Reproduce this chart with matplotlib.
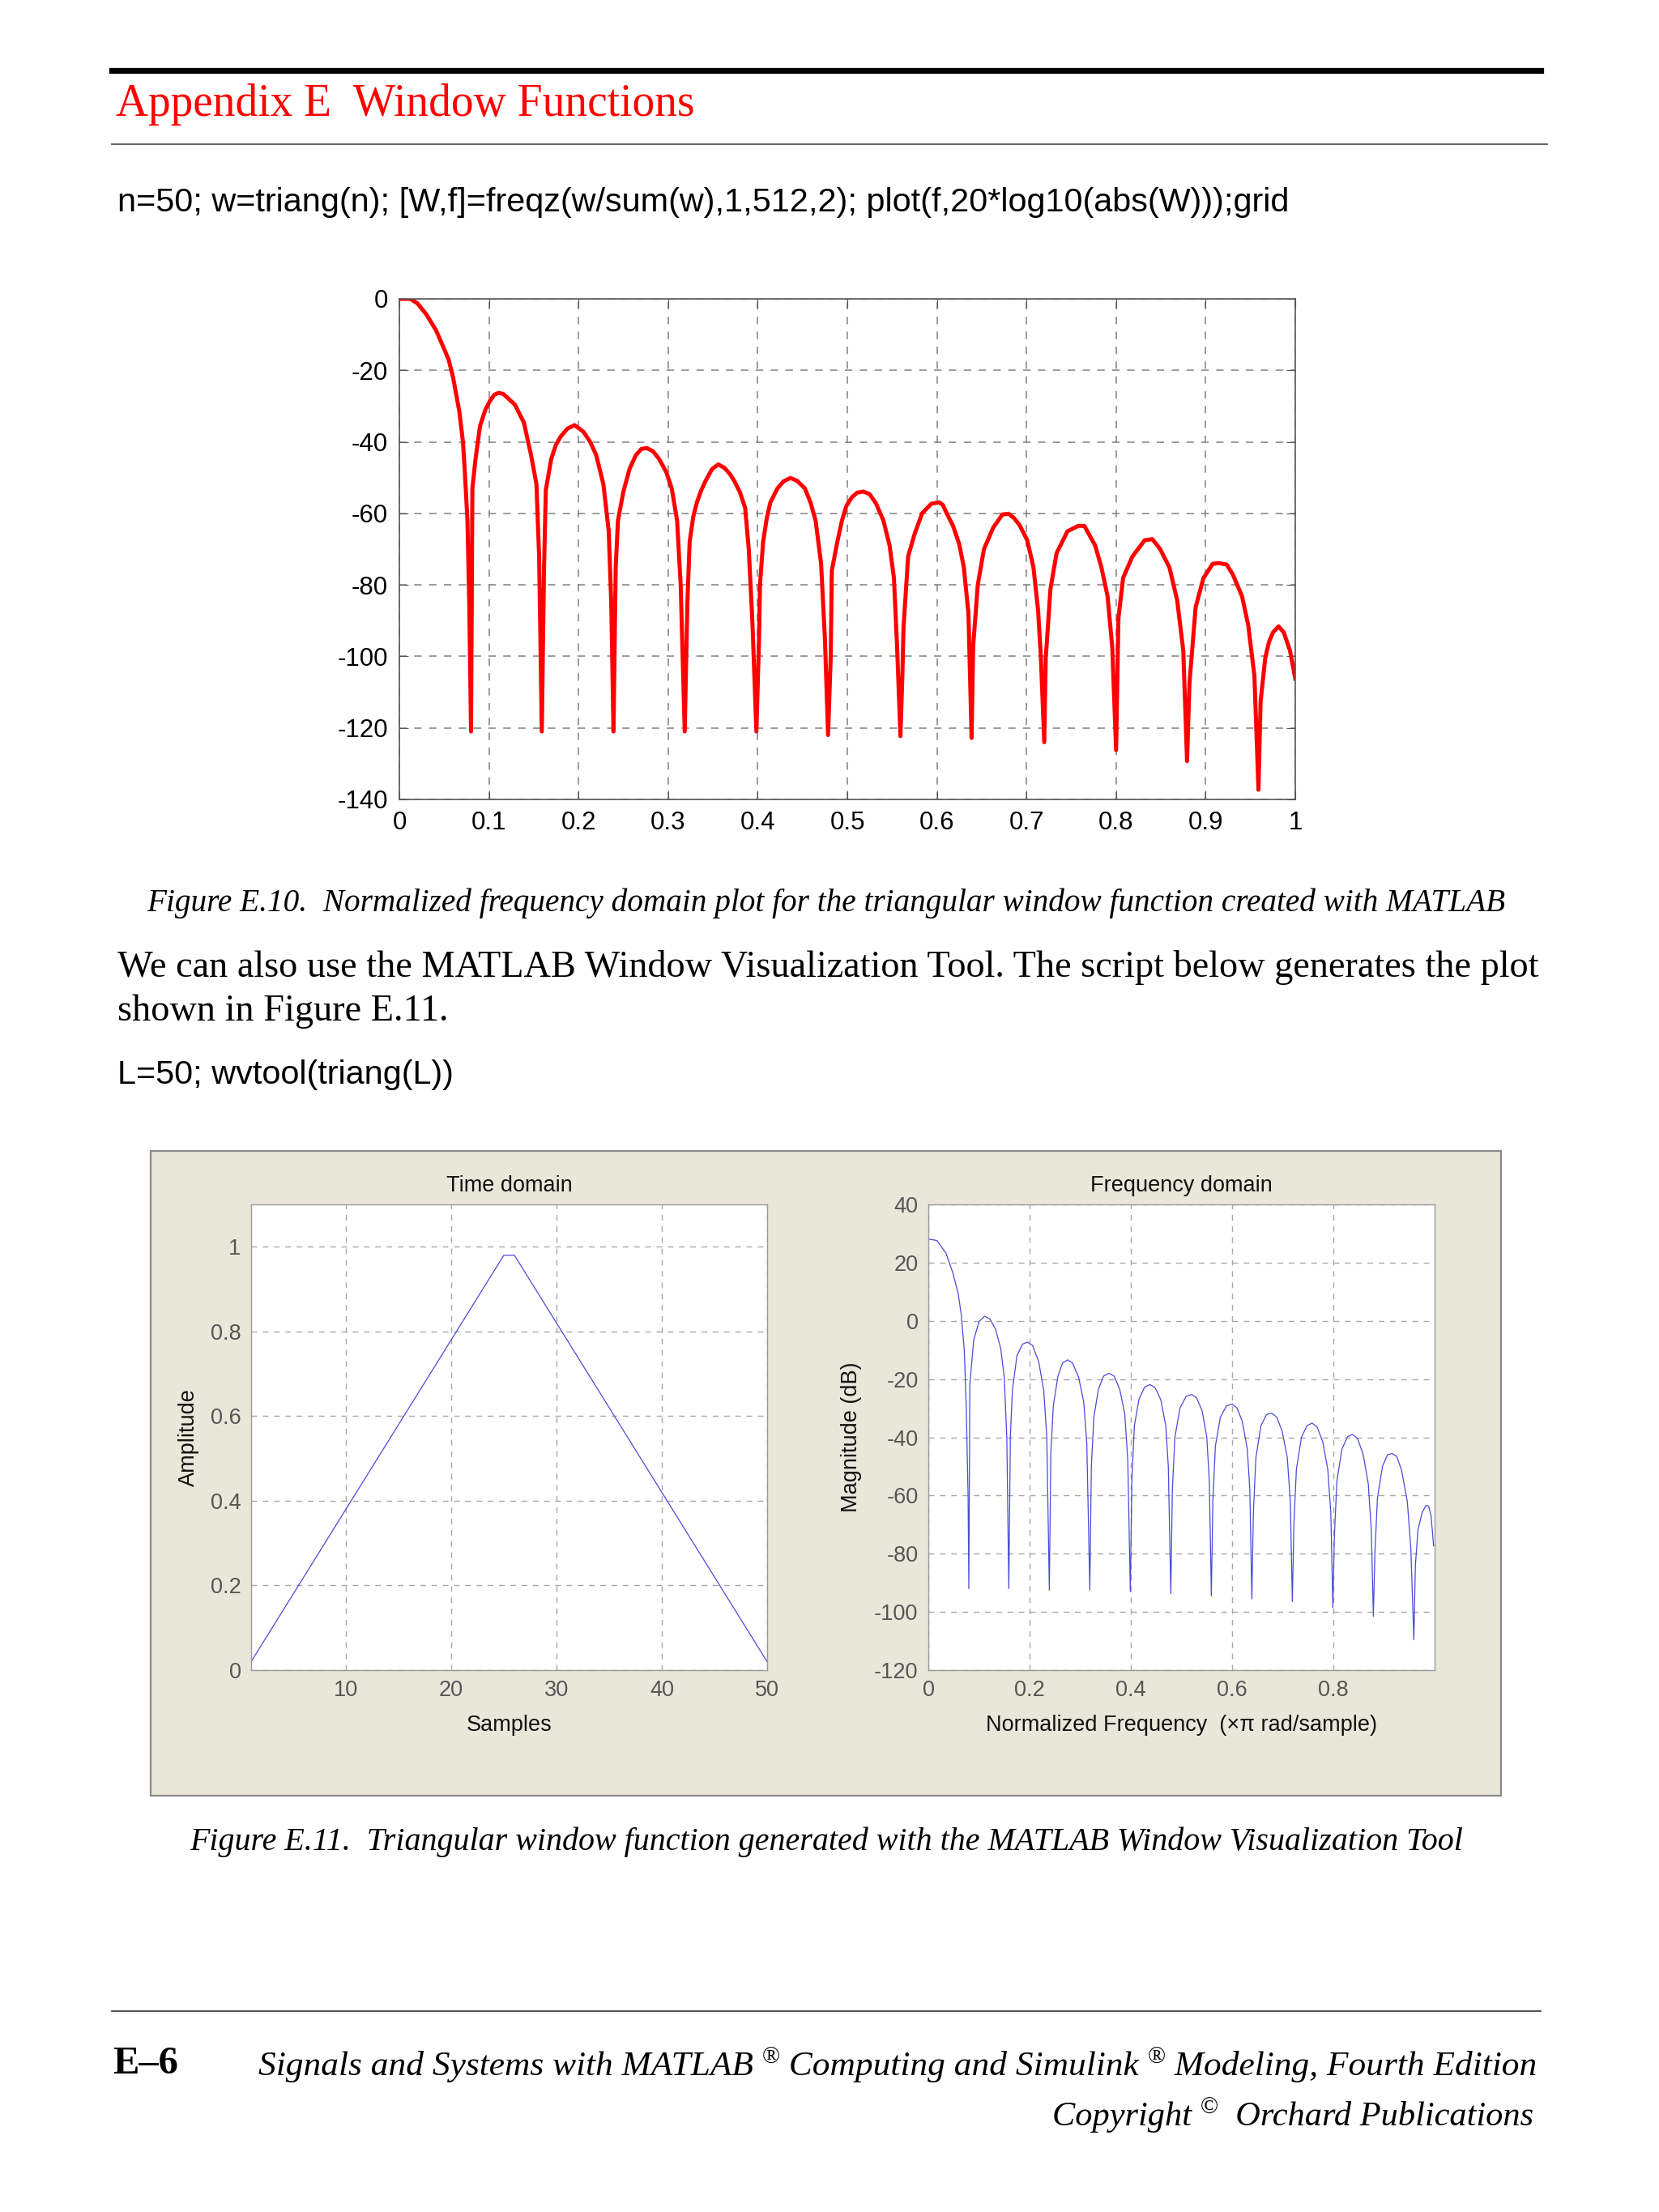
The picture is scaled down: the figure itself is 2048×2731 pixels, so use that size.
import numpy as np
import matplotlib
matplotlib.use("Agg")
import matplotlib.pyplot as plt
from matplotlib.lines import Line2D
from matplotlib.patches import Rectangle

plt.rcParams["axes.unicode_minus"] = False

# ---- data ----
# Figure E.10: freqz of triang(50)/sum, in dB (normalized freq, 1 = Nyquist)
top_freq = [0.000, 0.012, 0.020, 0.030, 0.041, 0.050, 0.055, 0.060, 0.067, 0.071, 0.073, 0.076, 0.078, 0.080,
            0.0815, 0.085, 0.090, 0.096, 0.101, 0.106, 0.111, 0.116, 0.120, 0.129, 0.139, 0.147, 0.153, 0.156, 0.159,
            0.1615, 0.1635, 0.1695, 0.1745, 0.1795, 0.1875, 0.1956, 0.2056, 0.2130, 0.2197, 0.2277, 0.2337, 0.2365, 0.2390,
            0.2415, 0.2440, 0.2500, 0.2570, 0.2640, 0.2700, 0.2760, 0.2830, 0.2900, 0.2980, 0.3040, 0.3100, 0.3140, 0.3185,
            0.3215, 0.3240, 0.3280, 0.3320, 0.3370, 0.3420, 0.3490, 0.3560, 0.3630, 0.3690, 0.3740, 0.3800, 0.3860, 0.3900, 0.3940, 0.3985,
            0.4015, 0.4025, 0.4060, 0.4100, 0.4140, 0.4220, 0.4290, 0.4365, 0.4440, 0.4526, 0.4590, 0.4646, 0.4707, 0.4750, 0.4785,
            0.4815, 0.4827, 0.4888, 0.4940, 0.4988, 0.5050, 0.5110, 0.5180, 0.5248, 0.5320, 0.5403, 0.5472, 0.5520, 0.5555, 0.5593,
            0.5615, 0.5627, 0.5679, 0.5748, 0.5834, 0.5938, 0.6024, 0.6065, 0.6110, 0.6180, 0.6248, 0.6300, 0.6352, 0.6387,
            0.6405, 0.6456, 0.6525, 0.6628, 0.6731, 0.6800, 0.6860, 0.6921, 0.7008, 0.7077, 0.7129, 0.7160, 0.7198,
            0.7215, 0.7267, 0.7336, 0.7457, 0.7578, 0.7646, 0.7767, 0.7836, 0.7905, 0.7957, 0.8000,
            0.8026, 0.8078, 0.8181, 0.8319, 0.8405, 0.8492, 0.8595, 0.8681, 0.8750, 0.8792,
            0.8819, 0.8888, 0.8975, 0.9078, 0.9147, 0.9234, 0.9303, 0.9406, 0.9475, 0.9544, 0.9589,
            0.9613, 0.9665, 0.9707, 0.9751, 0.9813, 0.9872, 0.9941, 1.0000]
top_db = [0, 0, -1.2, -4.3, -8.8, -14, -17, -22, -31.6, -40, -48, -62, -85, -121,
          -53, -44.8, -35.6, -31, -28.6, -26.8, -26.3, -26.6, -27.5, -29.6, -34.6, -43.7, -51.8, -72, -121,
          -75, -53.4, -44.8, -41, -38.7, -36.3, -35.3, -37.2, -40, -43.7, -51.8, -65, -85, -121,
          -75, -62, -54, -47.5, -43.7, -42, -41.7, -42.6, -44.8, -48.5, -53, -62, -80, -121,
          -85, -68, -61, -57, -53.5, -50.8, -47.6, -46.3, -47.3, -49, -51, -54, -58.5, -70, -90, -121,
          -95, -80, -68, -61.5, -57, -53, -51, -50.1, -50.9, -53, -57, -62, -74, -95, -122,
          -100, -76, -68, -62, -58, -55.5, -54.2, -53.9, -54.6, -57.2, -62, -69, -78, -97, -122.3,
          -105, -92, -72, -66, -60, -57.3, -56.9, -57.6, -60, -63.5, -68.5, -75, -88, -122.8,
          -97, -80, -70, -64, -60.3, -60.1, -61.3, -63.2, -67.5, -75, -87, -100, -124,
          -100.4, -81.2, -71.1, -65, -63.5, -63.5, -69, -75.1, -83.2, -97.4, -126.2,
          -89.3, -78.1, -72.1, -67.5, -67.2, -70, -75.1, -84.2, -98.4, -129.3,
          -107.5, -86.2, -78.1, -74.1, -73.9, -74.3, -77.1, -83.2, -91.3, -105.5, -137.3,
          -112.6, -100.4, -95.9, -93.3, -91.6, -93.3, -98.4, -106.2]
top_xticks = [0, 0.1, 0.2, 0.3, 0.4, 0.5, 0.6, 0.7, 0.8, 0.9, 1]
top_xlabels = ["0", "0.1", "0.2", "0.3", "0.4", "0.5", "0.6", "0.7", "0.8", "0.9", "1"]
top_yticks = [0, -20, -40, -60, -80, -100, -120, -140]

# Figure E.11 left: triang(50) time domain (vertices of the polyline)
tri_samples = [1, 25, 26, 50]
tri_amp = [0.02, 0.98, 0.98, 0.02]

# Figure E.11 right: wvtool magnitude in dB
wv_freq = [0.000, 0.017, 0.035, 0.048, 0.059, 0.065, 0.071, 0.075, 0.0785, 0.080,
           0.082, 0.0896, 0.100, 0.111, 0.122, 0.133, 0.143, 0.150, 0.155, 0.159,
           0.162, 0.166, 0.175, 0.186, 0.196, 0.206, 0.218, 0.228, 0.234, 0.239,
           0.242, 0.247, 0.256, 0.265, 0.275, 0.285, 0.297, 0.307, 0.313, 0.319,
           0.322, 0.327, 0.336, 0.346, 0.357, 0.367, 0.378, 0.388, 0.394, 0.399,
           0.402, 0.407, 0.416, 0.427, 0.438, 0.448, 0.459, 0.469, 0.474, 0.479,
           0.482, 0.487, 0.497, 0.509, 0.520, 0.530, 0.541, 0.550, 0.555, 0.559,
           0.562, 0.567, 0.577, 0.589, 0.600, 0.610, 0.620, 0.630, 0.635, 0.639,
           0.642, 0.647, 0.657, 0.668, 0.678, 0.688, 0.699, 0.709, 0.715, 0.719,
           0.722, 0.727, 0.737, 0.748, 0.758, 0.768, 0.779, 0.789, 0.795, 0.799,
           0.802, 0.807, 0.817, 0.828, 0.838, 0.848, 0.859, 0.869, 0.875, 0.879,
           0.882, 0.887, 0.897, 0.907, 0.916, 0.925, 0.935, 0.946, 0.953, 0.959,
           0.962, 0.967, 0.975, 0.983, 0.988, 0.993, 0.998]
wv_db = [28.1, 27.6, 23.2, 16.7, 9.4, 2.1, -10, -30, -60, -92,
         -22, -6.6, -0.3, 1.6, 0.6, -3, -9.5, -19.5, -40, -92,
         -40, -24, -12, -8, -7.3, -8.5, -14, -24, -40, -92.5,
         -45, -29, -19, -14.5, -13.4, -14.5, -19.5, -28, -42, -92.5,
         -50, -33, -23.5, -19, -18, -19, -23.5, -32, -48, -93,
         -55, -36, -27, -22.8, -21.9, -23, -27, -36, -50, -93.7,
         -58, -40, -30, -26, -25.3, -26.5, -31, -40, -55, -94.5,
         -62, -43, -33, -29.2, -28.6, -30, -34.5, -44, -58, -95.5,
         -66, -47, -36, -32.2, -31.7, -33, -38, -47, -62, -96.5,
         -70, -51, -40, -36, -35.1, -36.5, -41.5, -51, -66, -98.6,
         -74, -55, -44, -39.8, -39, -40.5, -46, -56, -72, -101.5,
         -80, -61, -50, -46, -45.6, -46.5, -51.5, -62, -78, -109.6,
         -84, -72, -66, -63.4, -63.6, -67, -77.3]

W, H = 2048, 2731
SANS = "Liberation Sans"
SERIF = "Liberation Serif"


def box(l, t, r, b):
    return [l / W, 1 - b / H, (r - l) / W, (b - t) / H]


def hline(fig, x0, x1, y, lw, color):
    fig.add_artist(Line2D([x0 / W, x1 / W], [1 - y / H, 1 - y / H],
                          transform=fig.transFigure, lw=lw, color=color))


fig = plt.figure(figsize=(20.48, 27.31), dpi=100)
fig.patch.set_facecolor("white")
renderer = fig.canvas.get_renderer()


def chain(parts, x_px, y_px):
    # runs of text placed one after another; superscript parts are raised
    x = x_px / W
    for txt, raised, size in parts:
        st = "normal" if raised else "italic"
        y = 1 - (y_px - (14 if raised else 0)) / H
        t = fig.text(x, y, txt, family=SERIF, style=st, fontsize=size,
                     va="baseline", ha="left")
        x = t.get_window_extent(renderer=renderer).x1 / W


# header
hline(fig, 138, 1902, 87, 5.2, "black")
hline(fig, 138, 1910, 178, 1.3, "#555555")
fig.text(143 / W, 1 - 129 / H, "Appendix E  Window Functions", family=SERIF,
         color="#ff0000", fontsize=40, va="center", ha="left")
fig.text(145 / W, 1 - 250 / H,
         "n=50; w=triang(n); [W,f]=freqz(w/sum(w),1,512,2); plot(f,20*log10(abs(W)));grid",
         family=SANS, fontsize=29.8, va="center", ha="left")

# ---- Figure E.10 ----
ax = fig.add_axes(box(493, 369, 1599, 987))
ax.plot(top_freq, top_db, color="#ff0000", lw=3.6, solid_joinstyle="round")
ax.set_xlim(0, 1)
ax.set_ylim(-140, 0)
ax.set_xticks(top_xticks)
ax.set_xticklabels(top_xlabels)
ax.set_yticks(top_yticks)
ax.grid(True, ls=(0, (6, 6)), color="#808080", lw=1.1)
for s in ax.spines.values():
    s.set_color("#555555")
    s.set_linewidth(1.2)
ax.tick_params(direction="in", length=8, top=True, right=True, color="#555555",
               labelsize=22.5, labelcolor="black", pad=10)
for lab in ax.get_xticklabels() + ax.get_yticklabels():
    lab.set_family(SANS)

fig.text(1020 / W, 1 - 1115 / H,
         "Figure E.10.  Normalized frequency domain plot for the triangular window function created with MATLAB",
         family=SERIF, style="italic", fontsize=28.3, va="center", ha="center")
fig.text(145 / W, 1 - 1195 / H,
         "We can also use the MATLAB Window Visualization Tool. The script below generates the plot",
         family=SERIF, fontsize=33.3, va="center", ha="left")
fig.text(145 / W, 1 - 1249 / H, "shown in Figure E.11.",
         family=SERIF, fontsize=33.3, va="center", ha="left")
fig.text(145 / W, 1 - 1327 / H, "L=50; wvtool(triang(L))",
         family=SANS, fontsize=29.8, va="center", ha="left")

# ---- Figure E.11 panel ----
fig.add_artist(Rectangle((186 / W, 1 - 2217 / H), (1853 - 186) / W, (2217 - 1421) / H,
                         transform=fig.transFigure, facecolor="#e9e7da",
                         edgecolor="#8a8a8a", lw=1.6, zorder=-1))


def style_wv(a):
    a.set_facecolor("white")
    a.grid(True, ls=(0, (5, 5)), color="#a8a8a8", lw=1.0)
    for s in a.spines.values():
        s.set_color("#9a9a9a")
        s.set_linewidth(1.0)
    a.tick_params(direction="in", length=0, labelsize=19.5, labelcolor="#555555", pad=9)
    for lab in a.get_xticklabels() + a.get_yticklabels():
        lab.set_family(SANS)


ax1 = fig.add_axes(box(310, 1487, 947, 2062))
ax1.plot(tri_samples, tri_amp, color="#4a4ad8", lw=0.9)
ax1.set_xlim(1, 50)
ax1.set_ylim(0, 1.1)
ax1.set_xticks([10, 20, 30, 40, 50])
ax1.set_yticks([0, 0.2, 0.4, 0.6, 0.8, 1])
ax1.set_yticklabels(["0", "0.2", "0.4", "0.6", "0.8", "1"])
style_wv(ax1)
ax1.set_xlabel("Samples", family=SANS, fontsize=19.5, color="#111111")
ax1.set_ylabel("Amplitude", family=SANS, fontsize=19.5, color="#111111")
ax1.xaxis.set_label_coords(0.5, -0.096)
ax1.yaxis.set_label_coords(-0.100, 0.5)
ax1.text(0.5, 1.04, "Time domain", transform=ax1.transAxes, ha="center", va="center",
         family=SANS, fontsize=19.5, color="#111111")

ax2 = fig.add_axes(box(1146, 1487, 1771, 2062))
ax2.plot(wv_freq, wv_db, color="#4a4ad8", lw=0.9)
ax2.set_xlim(0, 1.0)
ax2.set_ylim(-120, 40)
ax2.set_xticks([0, 0.2, 0.4, 0.6, 0.8])
ax2.set_xticklabels(["0", "0.2", "0.4", "0.6", "0.8"])
ax2.set_yticks([40, 20, 0, -20, -40, -60, -80, -100, -120])
style_wv(ax2)
ax2.set_xlabel("Normalized Frequency  (\u00d7\u03c0 rad/sample)", family=SANS, fontsize=19.5, color="#111111")
ax2.set_ylabel("Magnitude (dB)", family=SANS, fontsize=19.5, color="#111111")
ax2.xaxis.set_label_coords(0.5, -0.096)
ax2.yaxis.set_label_coords(-0.132, 0.5)
ax2.text(0.5, 1.04, "Frequency domain", transform=ax2.transAxes, ha="center", va="center",
         family=SANS, fontsize=19.5, color="#111111")

fig.text(1020 / W, 1 - 2274 / H,
         "Figure E.11.  Triangular window function generated with the MATLAB Window Visualization Tool",
         family=SERIF, style="italic", fontsize=28.8, va="center", ha="center")

# ---- footer ----
hline(fig, 138, 1902, 2483, 1.3, "#444444")
fig.text(139 / W, 1 - 2548 / H, "E\u20136", family=SERIF, weight="bold", fontsize=35,
         va="center", ha="left")

chain([("Signals and Systems with MATLAB ", False, 31.2),
       ("\u00ae", True, 21),
       (" Computing and Simulink ", False, 31.2),
       ("\u00ae", True, 21),
       (" Modeling, Fourth Edition", False, 31.2)], 319, 2562)
chain([("Copyright ", False, 30.5), ("\u00a9", True, 21),
       ("  Orchard Publications", False, 30.5)], 1299, 2624)

fig.savefig("out.png", dpi=100, facecolor="white")
